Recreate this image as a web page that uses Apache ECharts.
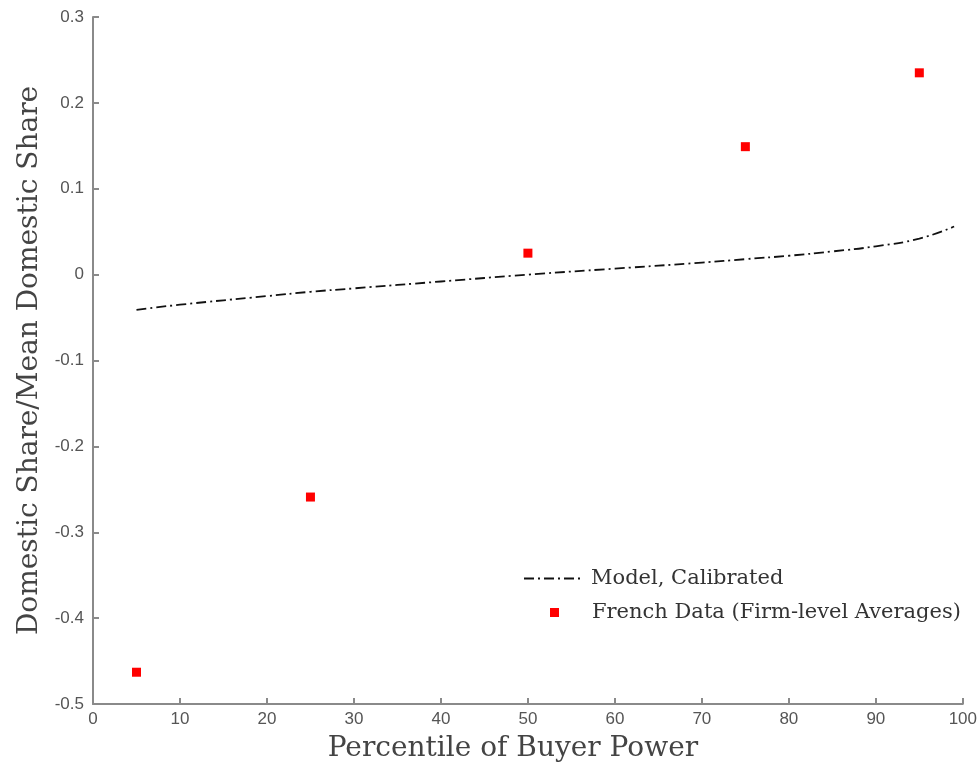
<!DOCTYPE html>
<html>
<head>
<meta charset="utf-8">
<script src="https://cdn.jsdelivr.net/npm/echarts@6/dist/echarts.min.js"></script>
<style>html,body{margin:0;padding:0;background:#fff}#c{width:980px;height:772px}</style>
</head>
<body>
<div id="c"></div>
<script>
const modelX = [5, 10, 20, 25, 30, 40, 50, 60, 70, 75, 80, 85, 90, 95, 99];
const modelY = [-0.041, -0.035, -0.025, -0.020, -0.016, -0.008, 0.000, 0.007, 0.014, 0.018, 0.022, 0.027, 0.033, 0.042, 0.056];
const dataX = [5, 25, 50, 75, 95];
const dataY = [-0.463, -0.259, 0.025, 0.149, 0.235];
const modelName = 'Model, Calibrated';
const dataName = 'French Data (Firm-level Averages)';
const xTitle = 'Percentile of Buyer Power';
const yTitle = 'Domestic Share/Mean Domestic Share';

const chart = echarts.init(document.getElementById('c'));
const axisCommon = {
  axisLine: { show: true, onZero: false, lineStyle: { color: '#8a8a8a', width: 2 } },
  axisTick: { show: true, inside: true, length: 6, lineStyle: { color: '#8a8a8a', width: 2 } },
  splitLine: { show: false },
  axisLabel: { color: '#555', fontFamily: 'Liberation Sans', fontSize: 17 },
  nameTextStyle: { color: '#444', fontFamily: 'DejaVu Serif', fontSize: 28 }
};
chart.setOption({
  animation: false,
  backgroundColor: '#fff',
  grid: { left: 93, right: 16, top: 17, bottom: 68 },
  xAxis: Object.assign({}, axisCommon, {
    type: 'value', min: 0, max: 100, interval: 10,
    name: xTitle, nameLocation: 'middle', nameGap: 31,
    nameTextStyle: Object.assign({}, axisCommon.nameTextStyle, { padding: [0, 30, 0, 0] }),
    axisLabel: Object.assign({}, axisCommon.axisLabel, { margin: 7 })
  }),
  yAxis: Object.assign({}, axisCommon, {
    type: 'value', min: -0.5, max: 0.3, interval: 0.1,
    name: yTitle, nameLocation: 'middle', nameGap: 48,
    axisLabel: Object.assign({}, axisCommon.axisLabel, { margin: 9,
      formatter: v => (Math.round(v * 10) / 10).toString() })
  }),
  legend: [
    {
      data: [{ name: modelName, itemStyle: { opacity: 0 } }], left: 518, top: 563, itemWidth: 58, itemHeight: 12,
      textStyle: { fontFamily: 'DejaVu Serif', fontSize: 21, color: '#333', padding: [0, 0, 0, 4] }
    },
    {
      data: [dataName], left: 545, top: 597, itemWidth: 9, itemHeight: 9,
      textStyle: { fontFamily: 'DejaVu Serif', fontSize: 21, color: '#333', padding: [0, 0, 0, 28] }
    }
  ],
  series: [
    {
      name: modelName, type: 'line', symbol: 'none', smooth: true,
      data: modelX.map((x, i) => [x, modelY[i]]),
      lineStyle: { color: '#111', width: 1.8, type: [10, 4, 2, 4] },
      itemStyle: { color: '#111' }
    },
    {
      name: dataName, type: 'scatter', symbol: 'rect', symbolSize: 9,
      data: dataX.map((x, i) => [x, dataY[i]]),
      itemStyle: { color: '#ff0000', opacity: 1 }
    }
  ]
});
</script>
</body>
</html>
